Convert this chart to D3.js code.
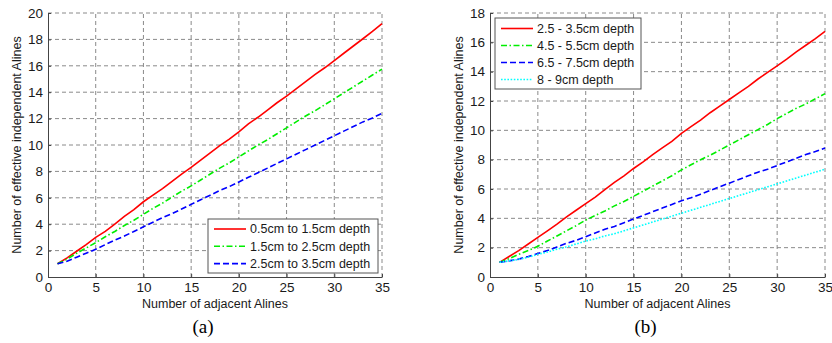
<!DOCTYPE html>
<html>
<head>
<meta charset="utf-8">
<script src="https://cdn.jsdelivr.net/npm/d3@7/dist/d3.min.js"></script>
<style>
  body { margin: 0; background: #fff; }
  svg { display: block; }
  text { font-family: Arial, "Liberation Sans", sans-serif; }
</style>
</head>
<body>
<svg id="chart" width="832" height="343"></svg>
<script>
// Number of adjacent A-lines (shared x values)
const alines = d3.range(1, 36);

// Panel (a) series
const seriesA_names = ["0.5cm to 1.5cm depth", "1.5cm to 2.5cm depth", "2.5cm to 3.5cm depth"];
const seriesA_red = [1, 1.45, 1.95, 2.45, 3.0, 3.45, 4.0, 4.6, 5.1, 5.7, 6.2, 6.7, 7.25, 7.8, 8.3, 8.85, 9.4, 9.95, 10.45, 11.0, 11.6, 12.1, 12.65, 13.2, 13.7, 14.25, 14.8, 15.35, 15.85, 16.4, 16.95, 17.5, 18.05, 18.6, 19.2];
const seriesA_green = [1, 1.35, 1.8, 2.2, 2.6, 3.05, 3.45, 3.9, 4.3, 4.75, 5.2, 5.6, 6.05, 6.5, 6.9, 7.35, 7.8, 8.25, 8.65, 9.1, 9.55, 10.0, 10.4, 10.85, 11.3, 11.75, 12.2, 12.6, 13.05, 13.5, 13.95, 14.4, 14.85, 15.3, 15.75];
const seriesA_blue = [1, 1.2, 1.5, 1.8, 2.1, 2.45, 2.8, 3.1, 3.45, 3.8, 4.15, 4.5, 4.8, 5.15, 5.5, 5.85, 6.2, 6.55, 6.85, 7.2, 7.55, 7.9, 8.25, 8.6, 8.95, 9.3, 9.65, 10.0, 10.35, 10.7, 11.05, 11.4, 11.75, 12.05, 12.4];

// Panel (b) series
const seriesB_names = ["2.5 - 3.5cm depth", "4.5 - 5.5cm depth", "6.5 - 7.5cm depth", "8 - 9cm depth"];
const seriesB_red = [1, 1.4, 1.8, 2.25, 2.7, 3.15, 3.6, 4.1, 4.55, 5.0, 5.45, 5.95, 6.45, 6.9, 7.4, 7.85, 8.35, 8.8, 9.25, 9.8, 10.25, 10.7, 11.2, 11.65, 12.1, 12.55, 13.0, 13.5, 13.95, 14.4, 14.85, 15.35, 15.8, 16.25, 16.75];
const seriesB_green = [1, 1.25, 1.55, 1.8, 2.1, 2.45, 2.8, 3.15, 3.5, 3.88, 4.2, 4.5, 4.85, 5.15, 5.5, 5.85, 6.2, 6.55, 6.9, 7.3, 7.65, 8.0, 8.3, 8.65, 9.0, 9.35, 9.7, 10.05, 10.4, 10.8, 11.15, 11.5, 11.8, 12.15, 12.5];
const seriesB_blue = [1, 1.1, 1.22, 1.4, 1.6, 1.8, 2.05, 2.3, 2.5, 2.75, 3.0, 3.25, 3.45, 3.7, 3.95, 4.2, 4.45, 4.7, 4.95, 5.2, 5.4, 5.65, 5.9, 6.15, 6.4, 6.65, 6.9, 7.15, 7.35, 7.6, 7.85, 8.1, 8.35, 8.55, 8.8];
const seriesB_cyan = [1, 1.1, 1.2, 1.35, 1.55, 1.7, 1.9, 2.05, 2.25, 2.45, 2.6, 2.8, 2.95, 3.15, 3.35, 3.55, 3.75, 3.95, 4.15, 4.35, 4.55, 4.75, 4.95, 5.15, 5.35, 5.55, 5.75, 5.95, 6.15, 6.35, 6.55, 6.75, 6.95, 7.15, 7.35];

// Tick labels
const xTicks = [0, 5, 10, 15, 20, 25, 30, 35];
const yTicksA = [0, 2, 4, 6, 8, 10, 12, 14, 16, 18, 20];
const yTicksB = [0, 2, 4, 6, 8, 10, 12, 14, 16, 18];

const xLabel = "Number of adjacent Alines";
const yLabel = "Number of effective independent Alines";

// Line styles shared by both panels
const styles = {
  red:   { color: "#ff0000", dash: null },
  green: { color: "#00ee00", dash: "6,2.5,1.5,2.5" },
  blue:  { color: "#0000ff", dash: "6,3" },
  cyan:  { color: "#00ffff", dash: "1.6,1.6" }
};

const svg = d3.select("#chart");

function drawPanel(opt) {
  const g = svg.append("g");
  const x = d3.scaleLinear().domain([0, 35]).range([opt.left, opt.right]);
  const y = d3.scaleLinear().domain([0, opt.yMax]).range([opt.bottom, opt.top]);

  // grid
  const grid = g.append("g").attr("stroke", "#8a8a8a").attr("stroke-width", 1)
    .attr("stroke-dasharray", "4,3").attr("fill", "none");
  xTicks.filter(d => d > 0).forEach(d => {
    grid.append("line").attr("x1", x(d)).attr("x2", x(d))
      .attr("y1", opt.bottom).attr("y2", opt.top);
  });
  opt.yTicks.filter(d => d > 0).forEach(d => {
    grid.append("line").attr("x1", opt.left).attr("x2", opt.right)
      .attr("y1", y(d)).attr("y2", y(d));
  });

  // axes
  const xAxis = d3.axisBottom(x).tickValues(xTicks).tickSizeInner(-3).tickSizeOuter(0).tickPadding(5);
  const yAxis = d3.axisLeft(y).tickValues(opt.yTicks).tickSizeInner(-3).tickSizeOuter(0).tickPadding(5);
  const gx = g.append("g").attr("transform", `translate(0,${opt.bottom})`).call(xAxis);
  const gy = g.append("g").attr("transform", `translate(${opt.left},0)`).call(yAxis);
  [gx, gy].forEach(a => {
    a.select(".domain").attr("stroke", "#444");
    a.selectAll(".tick line").attr("stroke", "#444");
    a.selectAll(".tick text").attr("fill", "#1a1a1a").style("font-size", "13.5px")
      .style("font-family", "Arial, 'Liberation Sans', sans-serif");
  });

  // axis titles
  g.append("text").attr("x", (opt.left + opt.right) / 2).attr("y", opt.bottom + 31)
    .attr("text-anchor", "middle").attr("fill", "#1a1a1a").style("font-size", "12.5px").text(xLabel);
  g.append("text").attr("transform", `translate(${opt.left - 27},${(opt.top + opt.bottom) / 2}) rotate(-90)`)
    .attr("text-anchor", "middle").attr("fill", "#1a1a1a").style("font-size", "12.5px").text(yLabel);

  // panel caption
  g.append("text").attr("x", (opt.left + opt.right) / 2 - 12).attr("y", 333)
    .attr("text-anchor", "middle").attr("fill", "#000")
    .style("font-family", "'Liberation Serif', 'Times New Roman', serif").style("font-size", "19px")
    .text(opt.caption);

  // curves
  const line = d3.line().x((d, i) => x(alines[i])).y(d => y(d));
  opt.series.forEach(s => {
    const st = styles[s.style];
    g.append("path").datum(s.values).attr("d", line).attr("fill", "none")
      .attr("stroke", st.color).attr("stroke-width", 1.6)
      .attr("stroke-dasharray", st.dash);
  });

  // legend
  const lg = g.append("g").attr("transform", `translate(${opt.legend.x},${opt.legend.y})`);
  lg.append("rect").attr("width", opt.legend.w).attr("height", opt.legend.h)
    .attr("fill", "#fff").attr("stroke", "#555").attr("stroke-width", 1);
  opt.series.forEach((s, i) => {
    const st = styles[s.style];
    const ry = opt.legend.row0 + i * opt.legend.rowH;
    lg.append("line").attr("x1", 6).attr("x2", 38).attr("y1", ry).attr("y2", ry)
      .attr("stroke", st.color).attr("stroke-width", 1.6).attr("stroke-dasharray", st.dash);
    lg.append("text").attr("x", 42).attr("y", ry).attr("dy", "0.35em")
      .attr("fill", "#1a1a1a").style("font-size", "12.5px").text(s.name);
  });
}

drawPanel({
  left: 48, right: 382, top: 13, bottom: 277, yMax: 20, yTicks: yTicksA, caption: "(a)",
  series: [
    { name: seriesA_names[0], values: seriesA_red, style: "red" },
    { name: seriesA_names[1], values: seriesA_green, style: "green" },
    { name: seriesA_names[2], values: seriesA_blue, style: "blue" }
  ],
  legend: { x: 208, y: 219, w: 170, h: 54, row0: 10, rowH: 17.3 }
});

drawPanel({
  left: 490, right: 825, top: 13, bottom: 277, yMax: 18, yTicks: yTicksB, caption: "(b)",
  series: [
    { name: seriesB_names[0], values: seriesB_red, style: "red" },
    { name: seriesB_names[1], values: seriesB_green, style: "green" },
    { name: seriesB_names[2], values: seriesB_blue, style: "blue" },
    { name: seriesB_names[3], values: seriesB_cyan, style: "cyan" }
  ],
  legend: { x: 495, y: 18, w: 146, h: 71, row0: 10.5, rowH: 17 }
});
</script>
</body>
</html>
